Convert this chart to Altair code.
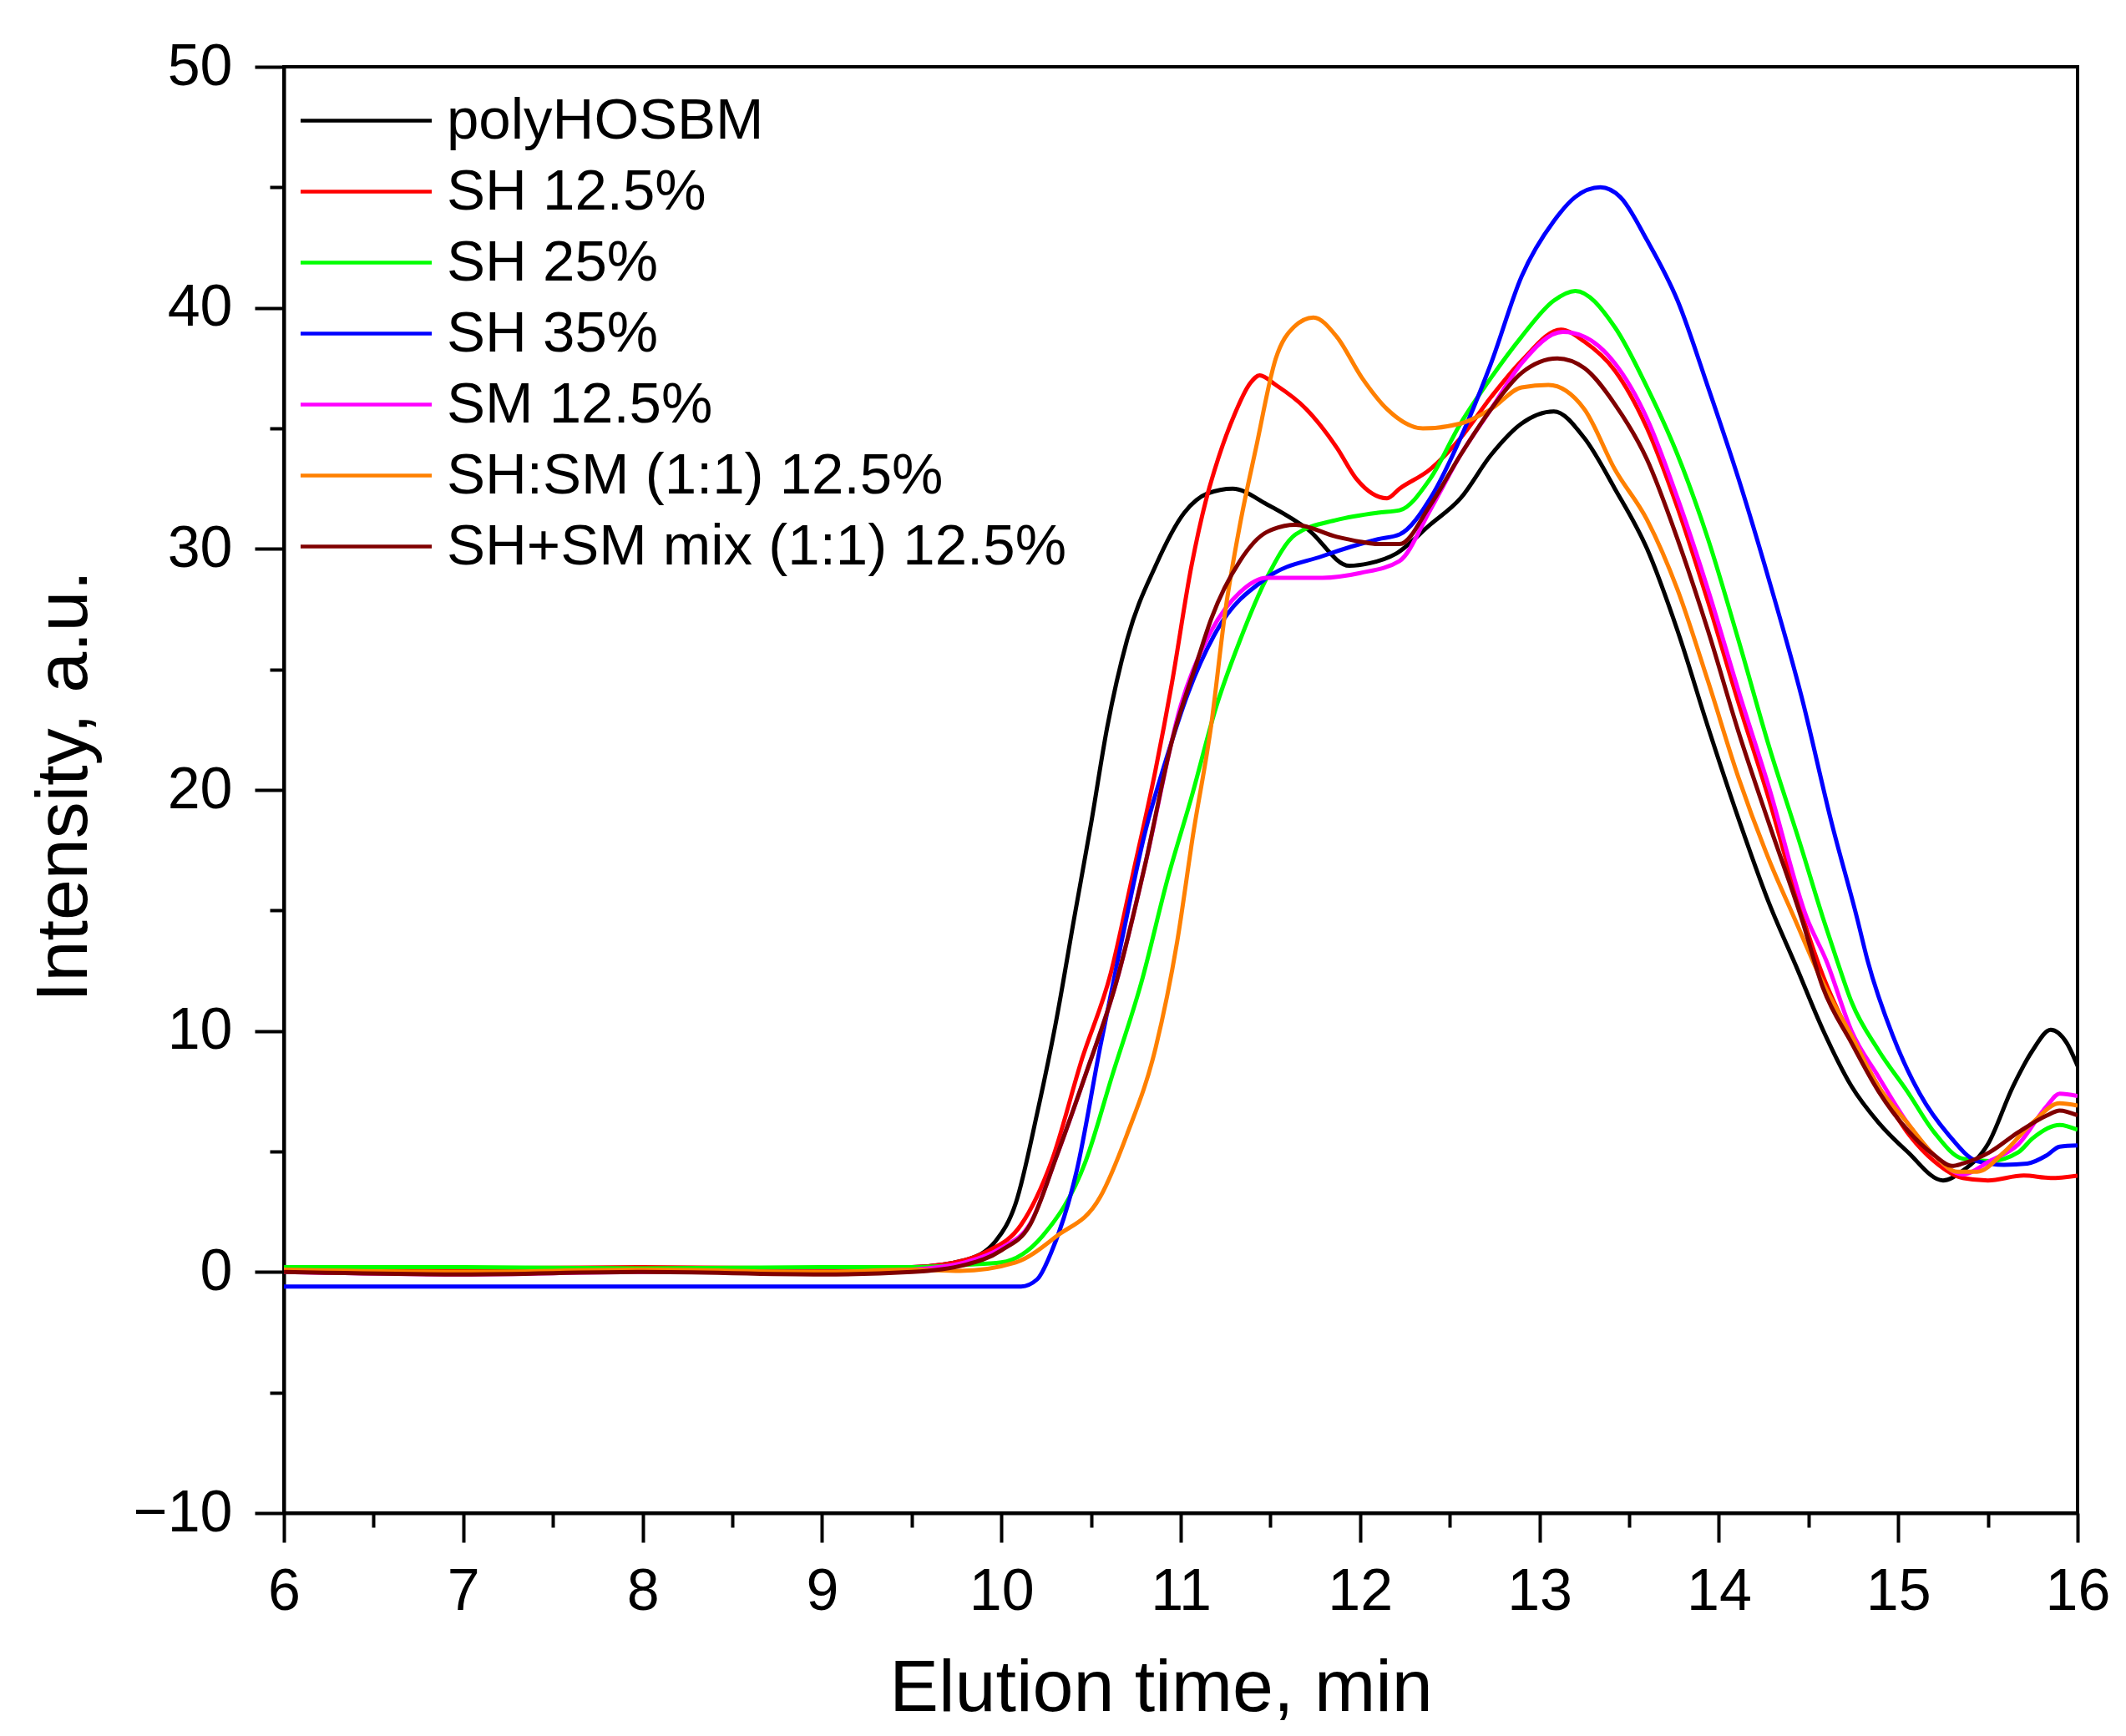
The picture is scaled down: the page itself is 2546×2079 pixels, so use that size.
import altair as alt
import pandas as pd

SERIES = [
    "polyHOSBM",
    "SH 12.5%",
    "SH 25%",
    "SH 35%",
    "SM 12.5%",
    "SH:SM (1:1) 12.5%",
    "SH+SM mix (1:1) 12.5%",
]
COLORS = ["#000000", "#ff0000", "#00ff00", "#0000ff", "#ff00ff", "#ff8000", "#800000"]

X_TICKS = [6, 6.5, 7, 7.5, 8, 8.5, 9, 9.5, 10, 10.5, 11, 11.5, 12, 12.5, 13, 13.5, 14, 14.5, 15, 15.5, 16]
Y_TICKS = [-10, -5, 0, 5, 10, 15, 20, 25, 30, 35, 40, 45, 50]

# elution time (min) / intensity (a.u.), one pair per sample
T_POLY = [6, 7, 8, 9, 9.5, 9.8, 9.97, 10.08, 10.2, 10.3, 10.41, 10.5, 10.59, 10.7,
          10.86, 11.02, 11.15, 11.29, 11.48, 11.71, 11.94, 12.05, 12.2, 12.39, 12.56, 12.73,
          12.9, 13.08, 13.25, 13.42, 13.6, 13.77, 13.94, 14.11, 14.28, 14.43, 14.58, 14.74,
          14.89, 15.05, 15.25, 15.36, 15.5, 15.64, 15.75, 15.85, 15.94, 16.0]
I_POLY = [0.1, 0.15, 0.1, 0.15, 0.2, 0.5, 1.3, 2.85, 6.6, 10.2, 14.85, 18.6, 22.6, 26.2,
          29.3, 31.5, 32.3, 32.5, 31.85, 30.8, 29.3, 29.4, 29.8, 31.0, 32.1, 33.9,
          35.2, 35.7, 34.6, 32.5, 30.0, 26.6, 22.6, 18.8, 15.3, 12.7, 10.05, 7.7,
          6.2, 5.0, 3.8, 4.2, 5.3, 7.7, 9.2, 10.05, 9.5, 8.55]

T_SH125 = [6, 7, 8, 9, 9.5, 9.8, 9.92, 10.11, 10.28, 10.45, 10.61, 10.73, 10.86, 10.95,
           11.06, 11.14, 11.19, 11.29, 11.39, 11.44, 11.53, 11.7, 11.87, 11.98, 12.15, 12.22,
           12.39, 12.56, 12.73, 12.9, 13.12, 13.25, 13.42, 13.6, 13.77, 13.94, 14.11, 14.28,
           14.46, 14.58, 14.74, 14.89, 15.05, 15.2, 15.36, 15.5, 15.7, 15.85, 16.0]
I_SH125 = [0.2, 0.15, 0.2, 0.15, 0.2, 0.5, 0.85, 1.96, 4.6, 8.85, 12.4, 16.4, 20.85, 24.4,
           29.3, 32.0, 33.3, 35.4, 36.9, 37.2, 36.8, 35.8, 34.2, 32.9, 32.1, 32.5,
           33.3, 34.6, 36.3, 37.8, 39.1, 38.6, 37.4, 35.0, 31.7, 27.8, 23.6, 19.6,
           14.9, 12.3, 9.7, 7.7, 5.8, 4.6, 3.9, 3.8, 4.0, 3.9, 4.0]

T_SH25 = [6, 7, 8, 9, 9.5, 9.8, 10.0, 10.23, 10.47, 10.62, 10.78, 10.93, 11.06, 11.2,
          11.33, 11.48, 11.64, 11.87, 12.1, 12.22, 12.39, 12.56, 12.73, 12.9, 13.08, 13.2,
          13.42, 13.6, 13.77, 13.94, 14.11, 14.28, 14.46, 14.58, 14.66, 14.74, 14.89, 15.05,
          15.2, 15.36, 15.51, 15.67, 15.75, 15.9, 16.0]
I_SH25 = [0.2, 0.2, 0.15, 0.2, 0.2, 0.3, 0.4, 1.5, 4.6, 8.2, 12.0, 16.4, 19.7, 23.5,
          26.2, 28.8, 30.6, 31.2, 31.5, 31.6, 32.9, 35.2, 37.1, 38.8, 40.3, 40.7,
          39.2, 36.7, 33.9, 30.4, 26.2, 21.8, 17.6, 14.7, 12.9, 11.2, 9.2, 7.5,
          5.8, 4.7, 4.6, 4.97, 5.55, 6.1, 5.9]

T_SH35 = [6, 7, 8, 9, 9.5, 10.0, 10.11, 10.2, 10.28, 10.42, 10.55, 10.67, 10.8, 10.92,
          11.04, 11.2, 11.48, 11.79, 12.1, 12.22, 12.4, 12.56, 12.73, 12.9, 13.08, 13.2,
          13.34, 13.45, 13.6, 13.77, 13.94, 14.11, 14.28, 14.46, 14.63, 14.77, 14.83, 14.97,
          15.12, 15.28, 15.44, 15.59, 15.72, 15.83, 15.9, 16.0]
I_SH35 = [-0.6, -0.6, -0.6, -0.6, -0.6, -0.6, -0.6, -0.3, 0.85, 4.2, 9.3, 13.7, 18.2, 21.3,
          24.0, 26.6, 28.8, 29.7, 30.4, 30.6, 32.2, 34.6, 37.7, 41.3, 43.6, 44.6,
          45.0, 44.6, 42.8, 40.3, 36.7, 32.9, 28.7, 23.9, 18.6, 14.7, 12.9, 9.8,
          7.4, 5.7, 4.6, 4.45, 4.5, 4.85, 5.2, 5.25]

T_SM125 = [6, 7, 8, 9, 9.5, 9.8, 10.0, 10.16, 10.31, 10.47, 10.64, 10.8, 11.0,
           11.17, 11.33, 11.48, 11.79, 12.0, 12.22, 12.39, 12.56, 12.73, 12.9, 13.13, 13.25,
           13.42, 13.6, 13.77, 13.94, 14.11, 14.28, 14.49, 14.6, 14.74, 14.89, 15.05, 15.2,
           15.36, 15.51, 15.67, 15.83, 15.9, 16.0]
I_SM125 = [0.0, -0.1, 0.0, 0.0, 0.1, 0.4, 1.0, 2.0, 4.85, 8.2, 12.0, 16.85, 23.5,
           26.6, 28.2, 28.8, 28.8, 29.0, 29.5, 31.6, 33.9, 35.8, 37.7, 39.0, 38.8,
           37.7, 35.4, 32.1, 28.3, 24.1, 20.1, 14.7, 12.9, 10.0, 8.1, 6.2, 4.85,
           4.05, 4.6, 5.3, 6.9, 7.4, 7.3]

T_SHSM = [6, 7, 8, 9, 9.5, 9.77, 10.08, 10.31, 10.55, 10.7, 10.86, 10.98, 11.07, 11.17,
          11.25, 11.33, 11.42, 11.53, 11.63, 11.74, 11.87, 12.01, 12.15, 12.35, 12.56, 12.73,
          12.9, 13.05, 13.25, 13.42, 13.6, 13.77, 13.94, 14.11, 14.28, 14.42, 14.58, 14.74,
          14.89, 15.05, 15.2, 15.33, 15.44, 15.59, 15.75, 15.9, 16.0]
I_SHSM = [0.1, 0.0, 0.1, 0.0, 0.1, 0.05, 0.4, 1.5, 3.1, 5.7, 9.3, 13.7, 18.2, 22.7,
          27.5, 31.0, 34.2, 37.9, 39.2, 39.6, 38.8, 37.1, 35.8, 35.0, 35.2, 35.8,
          36.7, 36.8, 35.8, 33.3, 31.2, 28.3, 24.5, 20.5, 17.1, 14.7, 12.0, 9.8,
          7.7, 6.2, 4.85, 4.16, 4.16, 4.97, 6.2, 7.0, 6.9]

T_MIX = [6, 7, 8, 9, 9.5, 9.8, 10.0, 10.16, 10.31, 10.47, 10.64, 10.8, 10.95, 11.09,
         11.17, 11.33, 11.48, 11.64, 11.87, 12.0, 12.1, 12.22, 12.39, 12.56, 12.73, 12.9,
         13.1, 13.25, 13.42, 13.6, 13.77, 13.94, 14.11, 14.28, 14.46, 14.58, 14.74, 14.89,
         15.05, 15.2, 15.3, 15.36, 15.51, 15.67, 15.83, 15.9, 16.0]
I_MIX = [0.0, -0.1, 0.0, -0.1, 0.0, 0.3, 0.9, 1.96, 4.85, 8.2, 12.0, 16.85, 22.0, 25.3,
         27.1, 29.5, 30.7, 31.0, 30.5, 30.3, 30.2, 30.2, 31.8, 33.9, 35.8, 37.3,
         37.9, 37.5, 36.0, 33.7, 30.4, 26.6, 22.4, 18.6, 14.7, 11.8, 9.5, 7.5,
         5.9, 4.85, 4.4, 4.5, 4.97, 5.8, 6.5, 6.7, 6.5]

CURVES = [
    (T_POLY, I_POLY),
    (T_SH125, I_SH125),
    (T_SH25, I_SH25),
    (T_SH35, I_SH35),
    (T_SM125, I_SM125),
    (T_SHSM, I_SHSM),
    (T_MIX, I_MIX),
]

rows = []
for k, (name, (ts, vals)) in enumerate(zip(SERIES, CURVES)):
    for t, v in zip(ts, vals):
        rows.append({"sample": name, "order": k, "time": t, "intensity": v})
df = pd.DataFrame(rows)

FONT = "Liberation Sans"

# a long flat legend swatch drawn from a small symbol, so rows stay tight
SWATCH = "M-6,0H6"

chart = alt.Chart(df).mark_line(strokeWidth=5, interpolate="monotone", clip=True).encode(
    x=alt.X(
        "time:Q",
        scale=alt.Scale(domain=[6, 16], nice=False, zero=False),
        axis=alt.Axis(
            title="Elution time, min",
            values=X_TICKS,
            labelExpr="datum.value % 1 === 0 ? format(datum.value, 'd') : ''",
            tickSize={"condition": {"test": "datum.value % 1 === 0", "value": 35}, "value": 17},
            labelPadding=25,
            titleX=1050,
            titleY=236,
            titleBaseline="alphabetic",
        ),
    ),
    y=alt.Y(
        "intensity:Q",
        scale=alt.Scale(domain=[-10, 50], nice=False, zero=False),
        axis=alt.Axis(
            title="Intensity, a.u.",
            values=Y_TICKS,
            labelExpr="datum.value % 10 === 0 ? format(datum.value, 'd') : ''",
            tickSize={"condition": {"test": "datum.value % 10 === 0", "value": 35}, "value": 17},
            labelPadding=27,
            titleX=-237,
            titleY=861,
            titleBaseline="alphabetic",
        ),
    ),
    color=alt.Color(
        "sample:N",
        scale=alt.Scale(domain=SERIES, range=COLORS),
        sort=SERIES,
        legend=alt.Legend(
            title=None,
            orient="none",
            legendX=64,
            legendY=30,
            symbolType=SWATCH,
            symbolSize=685,
            symbolStrokeWidth=4.5,
            labelFontSize=69,
            labelFont=FONT,
            labelColor="black",
            labelOffset=62,
            labelLimit=0,
            rowPadding=15,
            padding=0,
        ),
    ),
    order=alt.Order("order:Q"),
).properties(
    width=2148,
    height=1732,
    background="white",
    autosize=alt.AutoSizeParams(type="none"),
    padding={"left": 332, "top": 72, "right": 40, "bottom": 258},
).configure_view(
    stroke="black",
    strokeWidth=4,
).configure_axis(
    grid=False,
    domainColor="black",
    domainWidth=4,
    tickColor="black",
    tickWidth=4,
    labelFont=FONT,
    labelFontSize=70,
    labelColor="black",
    labelFlush=False,
    titleFont=FONT,
    titleFontSize=88,
    titleFontWeight="normal",
    titleColor="black",
)

chart.save("out.html", embed_options={"renderer": "svg", "actions": False})
